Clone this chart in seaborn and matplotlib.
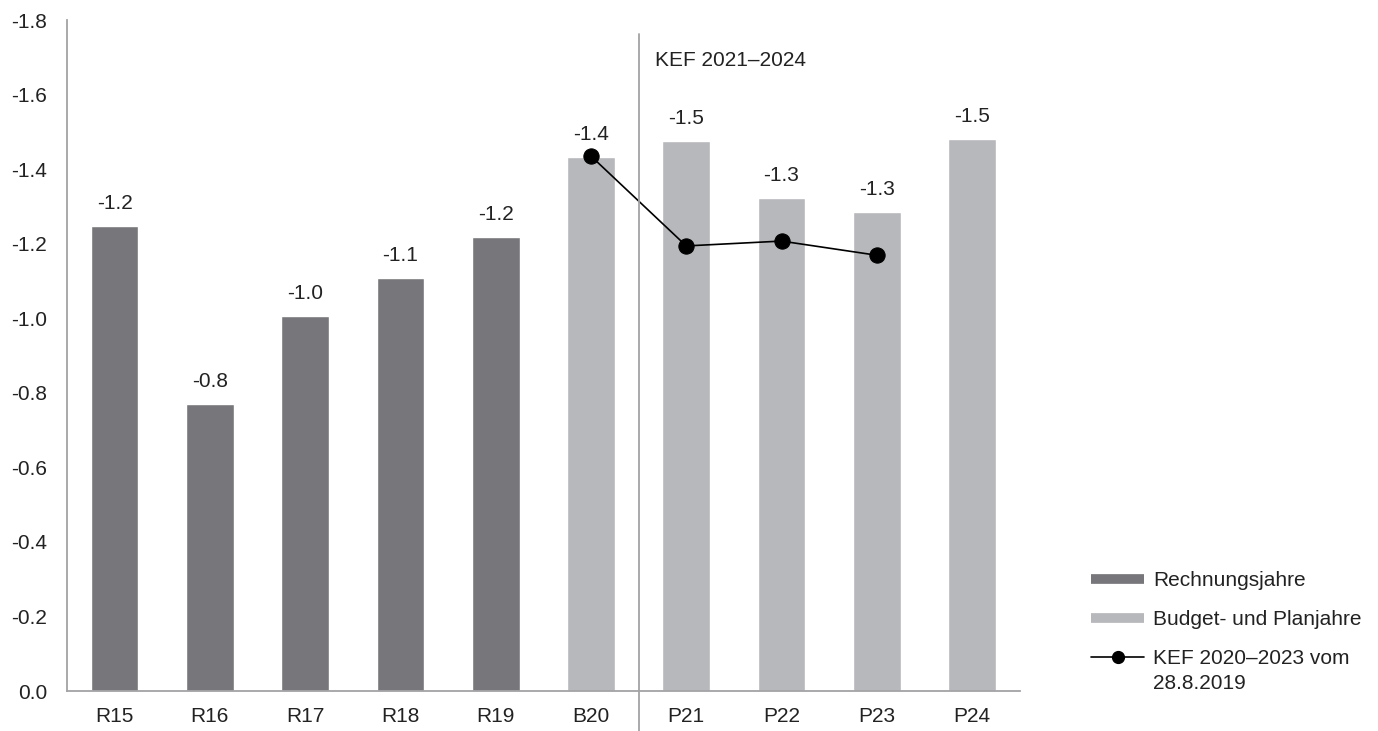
import pandas as pd
import seaborn as sns
import matplotlib.pyplot as plt
from matplotlib.lines import Line2D

# data
categories = ['R15', 'R16', 'R17', 'R18', 'R19', 'B20', 'P21', 'P22', 'P23', 'P24']
values = [-1.248, -0.77, -1.005, -1.108, -1.218, -1.433, -1.476, -1.323, -1.285, -1.481]
groups = ['Rechnungsjahre'] * 5 + ['Budget- und Planjahre'] * 5
kef_categories = ['B20', 'P21', 'P22', 'P23']
kef_values = [-1.435, -1.194, -1.207, -1.169]
y_ticks = [0.0, -0.2, -0.4, -0.6, -0.8, -1.0, -1.2, -1.4, -1.6, -1.8]

dark = '#77777b'
light = '#b7b8bc'
axis_grey = '#a3a3a6'
text_col = '#222222'
fs = 15

sns.set_style('white')
plt.rcParams['font.family'] = ['Liberation Sans', 'DejaVu Sans']
plt.rcParams['axes.unicode_minus'] = False

df = pd.DataFrame({'cat': categories, 'value': values, 'group': groups})
kef = pd.DataFrame({'cat': kef_categories, 'value': kef_values})

fig = plt.figure(figsize=(13.78, 7.31), dpi=100)
ax = fig.add_axes([0.0486, 0.0547, 0.6914, 0.9179])

sns.barplot(data=df, x='cat', y='value', hue='group', order=categories,
            palette={'Rechnungsjahre': dark, 'Budget- und Planjahre': light},
            dodge=False, width=0.5, saturation=1, legend=False, ax=ax)

# map KEF categories onto the bar positions
kef['pos'] = [categories.index(c) for c in kef['cat']]
sns.lineplot(data=kef, x='pos', y='value', color='black', linewidth=1.2,
             marker='o', markersize=11, markeredgecolor='black', ax=ax)

# value labels above the bars
for i, v in enumerate(values):
    ax.annotate(f'{v:.1f}', (i, v), xytext=(0, 12.2), textcoords='offset points',
                ha='center', va='baseline', fontsize=fs, color=text_col)

ax.set_xlim(-0.5, 9.5)
ax.set_ylim(0, -1.8)
ax.set_yticks(y_ticks)
ax.set_yticklabels([f'{t:.1f}' for t in y_ticks])
ax.set_xlabel('')
ax.set_ylabel('')
ax.tick_params(axis='both', length=0, labelsize=fs, colors=text_col)
ax.tick_params(axis='x', pad=11.5)
ax.tick_params(axis='y', pad=14.4)

for side in ['top', 'right']:
    ax.spines[side].set_visible(False)
for side in ['left', 'bottom']:
    ax.spines[side].set_color(axis_grey)
    ax.spines[side].set_linewidth(1.3)

# separator between actuals/budget and the plan period
ax.plot([5.5, 5.5], [-1.763, 0.11], color=axis_grey, linewidth=1.3, clip_on=False)
ax.text(5.67, -1.677, 'KEF 2021\u20132024', fontsize=fs, color=text_col, va='baseline')

handles = [
    Line2D([0], [0], color=dark, linewidth=7, solid_capstyle='butt'),
    Line2D([0], [0], color=light, linewidth=7, solid_capstyle='butt'),
    Line2D([0], [0], color='black', linewidth=1.2, marker='o', markersize=8.5),
]
labels = ['Rechnungsjahre', 'Budget- und Planjahre', 'KEF 2020\u20132023 vom']
leg = fig.legend(handles, labels, loc='upper left', bbox_to_anchor=(1091 / 1378, 1 - 571 / 731),
                 frameon=False, fontsize=fs, handlelength=2.55, handletextpad=0.43,
                 labelspacing=0.97, borderpad=0, borderaxespad=0, labelcolor=text_col)

# second line of the last legend entry, kept under its first line
fig.canvas.draw()
bb = leg.get_texts()[2].get_window_extent()
W, H = fig.bbox.width, fig.bbox.height
fig.text(bb.x0 / W, (bb.y0 - 25) / H, '28.8.2019', fontsize=fs, color=text_col, va='bottom')

fig.savefig('out.png', dpi=100)
